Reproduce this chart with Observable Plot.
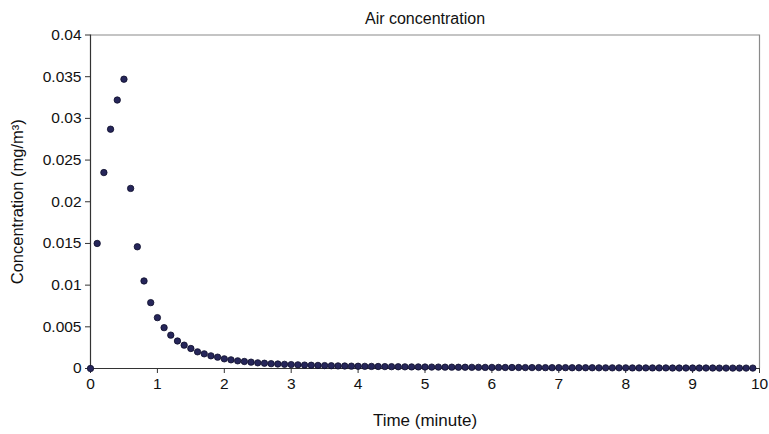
<!DOCTYPE html>
<html>
<head>
<meta charset="utf-8">
<script src="https://cdn.jsdelivr.net/npm/d3@7"></script>
<script src="https://cdn.jsdelivr.net/npm/@observablehq/plot@0.6"></script>
<style>
  body { margin: 0; background: #fff; }
  svg { font-family: "Liberation Sans", Arial, sans-serif; }
</style>
</head>
<body>
<div id="chart"></div>
<script>
const title = "Air concentration";
const xLabel = "Time (minute)";
const yLabel = "Concentration (mg/m³)";
const xTicks = [0, 1, 2, 3, 4, 5, 6, 7, 8, 9, 10];
const yTicks = [0, 0.005, 0.01, 0.015, 0.02, 0.025, 0.03, 0.035, 0.04];
const yTickLabels = ["0", "0.005", "0.01", "0.015", "0.02", "0.025", "0.03", "0.035", "0.04"];

// time in minutes (every 0.1 min)
const times = [
  0.0, 0.1, 0.2, 0.3, 0.4, 0.5, 0.6, 0.7, 0.8, 0.9,
  1.0, 1.1, 1.2, 1.3, 1.4, 1.5, 1.6, 1.7, 1.8, 1.9,
  2.0, 2.1, 2.2, 2.3, 2.4, 2.5, 2.6, 2.7, 2.8, 2.9,
  3.0, 3.1, 3.2, 3.3, 3.4, 3.5, 3.6, 3.7, 3.8, 3.9,
  4.0, 4.1, 4.2, 4.3, 4.4, 4.5, 4.6, 4.7, 4.8, 4.9,
  5.0, 5.1, 5.2, 5.3, 5.4, 5.5, 5.6, 5.7, 5.8, 5.9,
  6.0, 6.1, 6.2, 6.3, 6.4, 6.5, 6.6, 6.7, 6.8, 6.9,
  7.0, 7.1, 7.2, 7.3, 7.4, 7.5, 7.6, 7.7, 7.8, 7.9,
  8.0, 8.1, 8.2, 8.3, 8.4, 8.5, 8.6, 8.7, 8.8, 8.9,
  9.0, 9.1, 9.2, 9.3, 9.4, 9.5, 9.6, 9.7, 9.8, 9.9
];
// air concentration (mg/m3)
const concentration = [
  0.0, 0.0150, 0.0235, 0.0287, 0.0322, 0.0347, 0.0216, 0.0146, 0.0105, 0.0079,
  0.0061, 0.0049, 0.0040, 0.0033, 0.0028, 0.0024, 0.0020, 0.00176, 0.00152, 0.00136,
  0.00116, 0.00104, 0.00092, 0.00084, 0.00076, 0.00068, 0.00063, 0.00058, 0.00054, 0.00050,
  0.00047, 0.00044, 0.00041, 0.00039, 0.00037, 0.00035, 0.00033, 0.00031, 0.00030, 0.00028,
  0.00027, 0.00026, 0.00025, 0.00024, 0.00023, 0.00022, 0.00021, 0.00020, 0.00019, 0.00019,
  0.00018, 0.00017, 0.00017, 0.00016, 0.00016, 0.00015, 0.00015, 0.00014, 0.00014, 0.00013,
  0.00013, 0.00013, 0.00012, 0.00012, 0.00012, 0.00011, 0.00011, 0.00011, 0.00010, 0.00010,
  0.00010, 0.00010, 0.00009, 0.00009, 0.00009, 0.00009, 0.00008, 0.00008, 0.00008, 0.00008,
  0.00008, 0.00007, 0.00007, 0.00007, 0.00007, 0.00007, 0.00007, 0.00006, 0.00006, 0.00006,
  0.00006, 0.00006, 0.00006, 0.00006, 0.00005, 0.00005, 0.00005, 0.00005, 0.00005, 0.00005
];

const data = times.map((t, i) => ({t, c: concentration[i]}));

const chart = Plot.plot({
  width: 769,
  height: 434,
  marginLeft: 90,
  marginRight: 10,
  marginTop: 34.5,
  marginBottom: 66,
  style: {fontFamily: "'Liberation Sans', Arial, sans-serif", fontSize: "15px", color: "#111", background: "#fff"},
  x: {domain: [0, 10]},
  y: {domain: [0, 0.04]},
  marks: [
    Plot.ruleY([0.04], {stroke: "#8a8a8a", strokeWidth: 1.2}),
    Plot.ruleX([10], {stroke: "#8a8a8a", strokeWidth: 1.2}),
    Plot.axisY({ticks: yTicks, tickFormat: (d, i) => yTickLabels[i], tickSize: 5, tickPadding: 4, fontSize: 15.5, label: null, stroke: "#333"}),
    Plot.axisX({ticks: xTicks, tickFormat: d => String(d), tickSize: 5, tickPadding: 4, fontSize: 15.5, label: null, stroke: "#333"}),
    Plot.ruleX([0], {stroke: "#333", strokeWidth: 1.2}),
    Plot.ruleY([0], {stroke: "#333", strokeWidth: 1.2}),
    Plot.dot(data, {x: "t", y: "c", r: 3.2, fill: "#26265a", stroke: "#0d0d2a", strokeWidth: 0.8}),
    Plot.text([title], {frameAnchor: "top", textAnchor: "middle", dy: -22, fontSize: 16, fill: "#111"}),
    Plot.text([xLabel], {frameAnchor: "bottom", textAnchor: "middle", dy: 57, fontSize: 17, fill: "#111"}),
    Plot.text([yLabel], {frameAnchor: "left", textAnchor: "middle", dx: -73, rotate: -90, fontSize: 16.5, fill: "#111"})
  ]
});
document.getElementById("chart").append(chart);
</script>
</body>
</html>
